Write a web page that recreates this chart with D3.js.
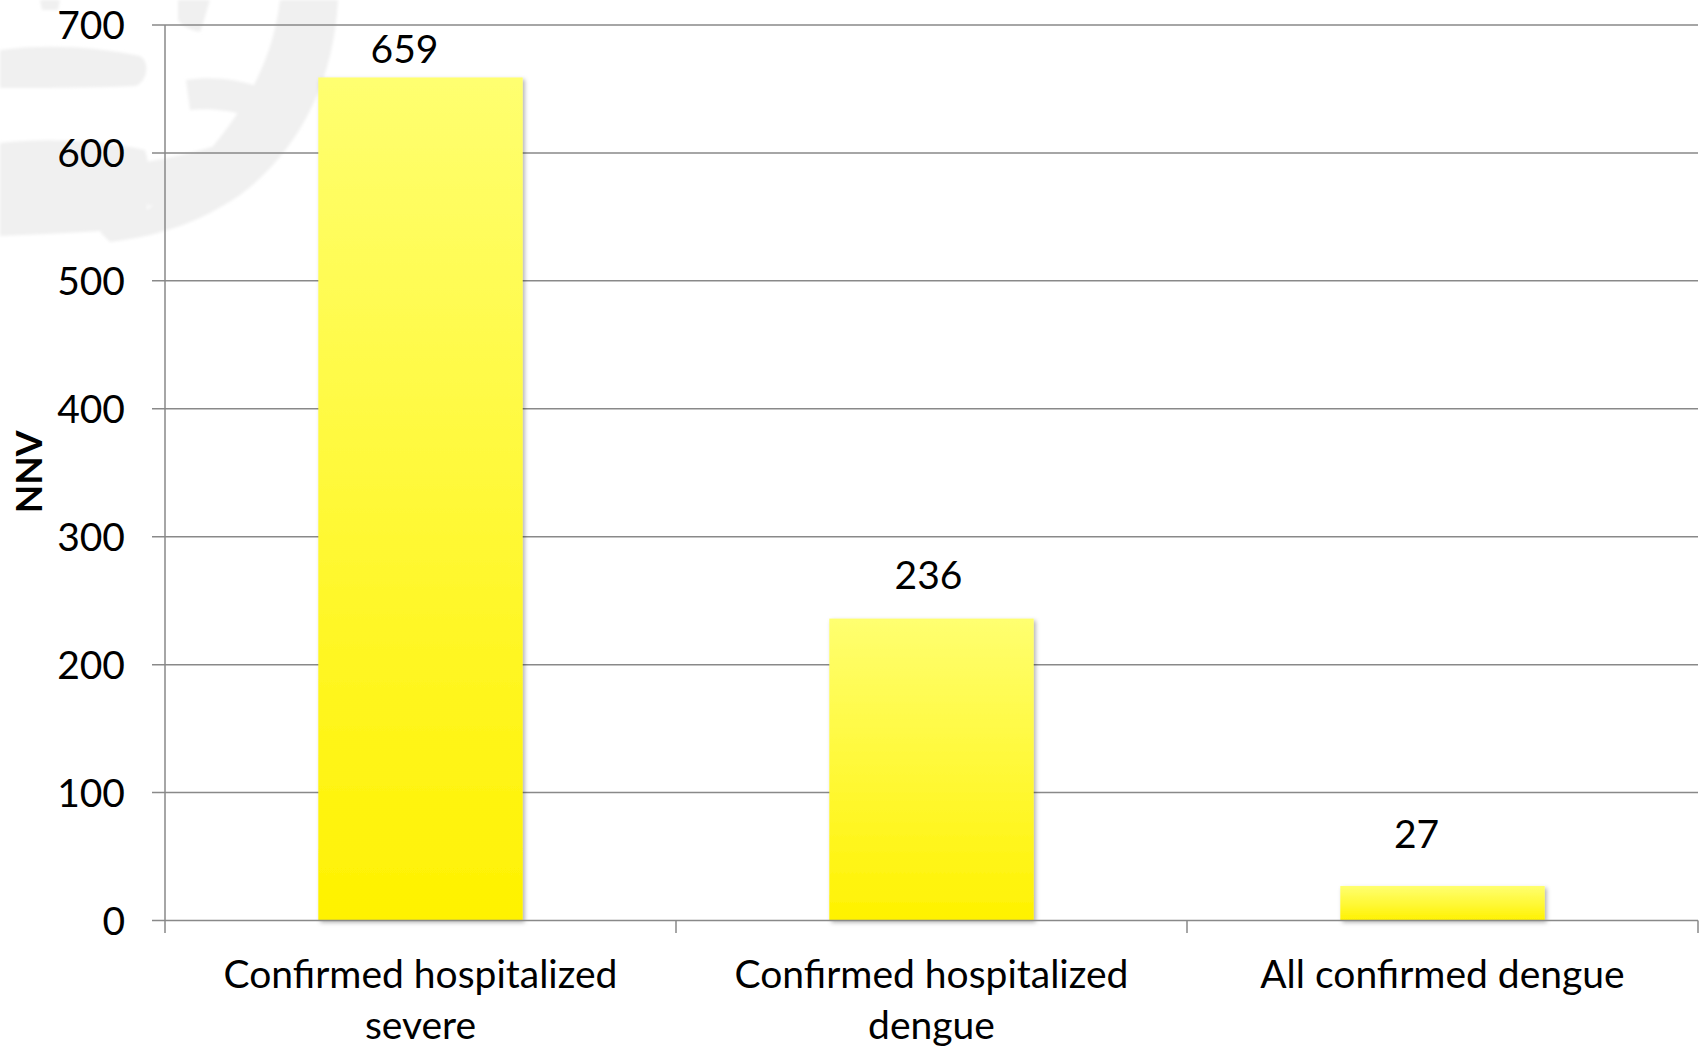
<!DOCTYPE html>
<html>
<head>
<meta charset="utf-8">
<script src="https://cdn.jsdelivr.net/npm/d3@7"></script>
<style>
  html, body { margin: 0; padding: 0; background: #fff; }
  svg { display: block; }
  text { font-family: Lato, "Open Sans", sans-serif; fill: #000; }
</style>
</head>
<body>
<svg id="chart" width="1708" height="1049"></svg>
<script>
// Number needed to vaccinate, by outcome definition
const categories = [
  ["Confirmed hospitalized", "severe"],
  ["Confirmed hospitalized", "dengue"],
  ["All confirmed dengue"]
];
const nnvValues = [659, 236, 27];
const yTicks = [0, 100, 200, 300, 400, 500, 600, 700];
const yTitle = "NNV";

// Layout
const W = 1708, H = 1049;
const plot = { left: 165, right: 1698, top: 25, bottom: 920.5 };
const gridColor = "#898989";
const fontSize = 39;
// small hand placement of the value labels relative to the bar top-centre
const labelNudge = [[-16, -14], [-3, -30], [-26, -38]];

const svg = d3.select("#chart");
const defs = svg.append("defs");

const grad = defs.append("linearGradient")
  .attr("id", "barFill").attr("x1", 0).attr("y1", 0).attr("x2", 0).attr("y2", 1);
grad.append("stop").attr("offset", "0%").attr("stop-color", "#ffff70");
grad.append("stop").attr("offset", "100%").attr("stop-color", "#fff200");

const shadow = defs.append("filter").attr("id", "barShadow")
  .attr("x", "-10%").attr("y", "-10%").attr("width", "130%").attr("height", "130%");
shadow.append("feDropShadow").attr("dx", 2).attr("dy", 2)
  .attr("stdDeviation", 2).attr("flood-color", "#000").attr("flood-opacity", 0.3);

const soft = defs.append("filter").attr("id", "soft");
soft.append("feGaussianBlur").attr("stdDeviation", 1.5);

// faint brush-stroke emblem in the upper-left corner
const mark = svg.append("g").attr("fill", "#f0f0f0").attr("filter", "url(#soft)");
[
  // upper horizontal stroke
  "M0,50 C40,44 95,46 140,56 C150,62 148,80 136,86 C90,88 40,88 0,88 Z",
  // small fragment at the top edge
  "M178,0 L210,0 C206,12 204,22 200,32 C190,30 182,26 178,20 Z",
  "M40,0 L60,0 L58,10 L42,10 Z",
  // large sweeping arc
  "M280,0 L338,0 C334,80 300,150 240,195 C200,222 160,236 110,242 L100,232 C140,218 170,196 190,172 C235,125 272,70 280,0 Z",
  // hook stroke joining the arc
  "M186,80 C210,76 240,78 266,90 L254,118 C232,110 208,108 190,110 Z",
  // lower horizontal band
  "M0,143 C45,138 95,140 145,150 C152,172 150,205 142,228 C95,232 45,234 0,236 Z",
  "M145,162 C170,158 195,152 215,146 L206,190 C186,198 166,204 148,206 Z"
].forEach(d => mark.append("path").attr("d", d));

const x = d3.scaleBand()
  .domain(d3.range(nnvValues.length))
  .range([plot.left, plot.right])
  .paddingInner(0.6).paddingOuter(0.3);

const y = d3.scaleLinear().domain([0, 700]).range([plot.bottom, plot.top]);

// horizontal gridlines with short outside tick marks
svg.append("g").selectAll("line")
  .data(yTicks.filter(t => t > 0))
  .join("line")
  .attr("x1", plot.left - 13).attr("x2", plot.right)
  .attr("y1", d => y(d)).attr("y2", d => y(d))
  .attr("stroke", gridColor).attr("stroke-width", 1.5);

// y axis labels
const yAxis = d3.axisLeft(y).tickValues(yTicks).tickSize(0).tickPadding(40);
const yg = svg.append("g").attr("transform", `translate(${plot.left},0)`).call(yAxis);
yg.select(".domain").remove();
yg.selectAll("text")
  .attr("font-family", "Lato, sans-serif").attr("font-size", fontSize)
  .attr("fill", "#000").attr("dy", 13.5).attr("x", -40);

// bars
svg.append("g").selectAll("rect")
  .data(nnvValues)
  .join("rect")
  .attr("x", (d, i) => x(i))
  .attr("width", x.bandwidth())
  .attr("y", d => y(d))
  .attr("height", d => y(0) - y(d))
  .attr("fill", "url(#barFill)")
  .attr("filter", "url(#barShadow)");

// value labels
svg.append("g").selectAll("text")
  .data(nnvValues)
  .join("text")
  .attr("x", (d, i) => x(i) + x.bandwidth() / 2 + labelNudge[i][0])
  .attr("y", (d, i) => y(d) + labelNudge[i][1])
  .attr("text-anchor", "middle")
  .attr("font-size", fontSize)
  .text(d => d);

// axis lines
const axes = svg.append("g").attr("stroke", gridColor).attr("stroke-width", 1.5);
axes.append("line")
  .attr("x1", plot.left - 13).attr("x2", plot.right)
  .attr("y1", y(0)).attr("y2", y(0));
axes.append("line")
  .attr("x1", plot.left).attr("x2", plot.left)
  .attr("y1", y(700)).attr("y2", y(0) + 12.5);
const bandEdges = d3.range(nnvValues.length + 1)
  .map(i => plot.left + i * (plot.right - plot.left) / nnvValues.length);
axes.selectAll("line.xt")
  .data(bandEdges.slice(1))
  .join("line").attr("class", "xt")
  .attr("x1", d => d).attr("x2", d => d)
  .attr("y1", y(0)).attr("y2", y(0) + 12.5);

// category labels
const cg = svg.append("g").selectAll("text")
  .data(categories)
  .join("text")
  .attr("text-anchor", "middle")
  .attr("font-size", fontSize)
  .attr("x", (d, i) => x(i) + x.bandwidth() / 2)
  .attr("y", 988);
cg.selectAll("tspan")
  .data((d, i) => d.map(s => ({ s, cx: x(i) + x.bandwidth() / 2 })))
  .join("tspan")
  .attr("x", d => d.cx)
  .attr("dy", (d, j) => j === 0 ? 0 : 51)
  .text(d => d.s);

// y axis title
svg.append("text")
  .attr("transform", "translate(42,472) rotate(-90)")
  .attr("text-anchor", "middle")
  .attr("font-size", 37)
  .attr("font-weight", "bold")
  .text(yTitle);
</script>
</body>
</html>
